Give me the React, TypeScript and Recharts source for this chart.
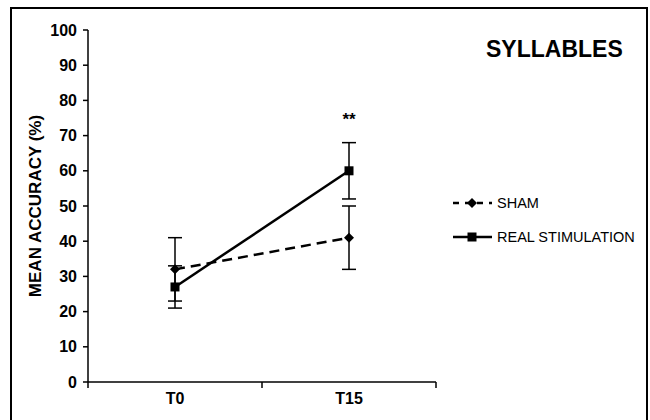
import { LineChart, Line, XAxis, YAxis, ErrorBar, ReferenceDot, Label } from "recharts"

const categories = ["T0", "T15"]
const shamMean = [32, 41]
const shamErr = [9, 9]
const realMean = [27, 60]
const realErr = [6, 8]
const yTicks = [0, 10, 20, 30, 40, 50, 60, 70, 80, 90, 100]
const sigMark = { category: "T15", value: 75, text: "**" }

const FONT = "'Liberation Sans', Arial, sans-serif"

const data = categories.map((c, i) => ({
  pos: i + 0.5,
  name: c,
  sham: shamMean[i],
  shamErr: shamErr[i],
  real: realMean[i],
  realErr: realErr[i],
}))

const xTicks = [0, 0.5, 1, 1.5, 2]

const Diamond = ({ cx, cy }: any) => (
  <path d={`M${cx},${cy - 5} L${cx + 5},${cy} L${cx},${cy + 5} L${cx - 5},${cy} Z`} fill="#000" />
)
const Square = ({ cx, cy }: any) => (
  <rect x={cx - 4.5} y={cy - 4.5} width={9} height={9} fill="#000" />
)

const XTick = ({ x, y, payload }: any) => {
  const v = payload.value
  if (Number.isInteger(v)) {
    return <line x1={x} x2={x} y1={y} y2={y + 6} stroke="#000" strokeWidth={1.5} />
  }
  const label = categories[Math.floor(v)]
  return (
    <text x={x} y={y + 22} textAnchor="middle" fontFamily={FONT} fontWeight="bold" fontSize={16} fill="#000">
      {label}
    </text>
  )
}

const YTick = ({ x, y, payload }: any) => (
  <text x={x} y={y} dy={5.5} textAnchor="end" fontFamily={FONT} fontWeight="bold" fontSize={16} fill="#000">
    {payload.value}
  </text>
)

const legendItems = [
  { name: "SHAM", dash: "6 6", marker: "diamond" },
  { name: "REAL STIMULATION", dash: undefined, marker: "square" },
]

const ChartLegend = () => (
  <svg width={200} height={60} style={{ position: "absolute", left: 451, top: 193 }}>
    {legendItems.map((it, i) => {
      const cy = 10 + i * 34
      return (
        <g key={it.name}>
          <line x1={2} x2={41} y1={cy} y2={cy} stroke="#000" strokeWidth={2.5} strokeDasharray={it.dash} />
          {it.marker === "diamond" ? <Diamond cx={21} cy={cy} /> : <Square cx={21} cy={cy} />}
          <text x={46} y={cy + 5} fontFamily={FONT} fontSize={14.5} fill="#000">
            {it.name}
          </text>
        </g>
      )
    })}
  </svg>
)

export default function App() {
  return (
    <div style={{ position: "absolute", left: 0, top: 0, width: 650, height: 420, background: "#fff", overflow: "hidden" }}>
      <div style={{ position: "absolute", left: 10, top: 7, width: 634, height: 430, border: "2px solid #000" }} />
      <div
        style={{
          position: "absolute",
          left: 486,
          top: 36,
          fontFamily: FONT,
          fontWeight: "bold",
          fontSize: 23,
          lineHeight: "26px",
          color: "#000",
        }}
      >
        SYLLABLES
      </div>
      <LineChart
        width={650}
        height={420}
        data={data}
        margin={{ top: 30, right: 214, bottom: 0, left: 0 }}
        style={{ position: "absolute", left: 0, top: 0 }}
      >
        <XAxis
          type="number"
          dataKey="pos"
          domain={[0, 2]}
          ticks={xTicks}
          interval={0}
          height={38}
          tickSize={0}
          tickMargin={0}
          tick={<XTick />}
          axisLine={{ stroke: "#000", strokeWidth: 1.5 }}
          tickLine={false}
        />
        <YAxis
          domain={[0, 100]}
          ticks={yTicks}
          interval={0}
          width={88}
          tickSize={5}
          tickMargin={6}
          tick={<YTick />}
          axisLine={{ stroke: "#000", strokeWidth: 1.5 }}
          tickLine={{ stroke: "#000", strokeWidth: 1.5 }}
        >
          <Label
            content={({ viewBox }: any) => (
              <text
                x={41}
                y={viewBox.y + viewBox.height / 2}
                transform={`rotate(-90 41 ${viewBox.y + viewBox.height / 2})`}
                textAnchor="middle"
                fontFamily={FONT}
                fontWeight="bold"
                fontSize={17}
                fill="#000"
              >
                MEAN ACCURACY (%)
              </text>
            )}
          />
        </YAxis>
        <Line
          dataKey="sham"
          stroke="#000"
          strokeWidth={2.5}
          strokeDasharray="10 6"
          dot={(p: any) => <Diamond key={`d${p.index}`} cx={p.cx} cy={p.cy} />}
          activeDot={false}
          isAnimationActive={false}
        >
          <ErrorBar dataKey="shamErr" width={7} stroke="#000" strokeWidth={1.5} isAnimationActive={false} />
        </Line>
        <Line
          dataKey="real"
          stroke="#000"
          strokeWidth={2.5}
          dot={(p: any) => <Square key={`s${p.index}`} cx={p.cx} cy={p.cy} />}
          activeDot={false}
          isAnimationActive={false}
        >
          <ErrorBar dataKey="realErr" width={7} stroke="#000" strokeWidth={1.5} isAnimationActive={false} />
        </Line>
        <ReferenceDot
          x={data[categories.indexOf(sigMark.category)].pos}
          y={sigMark.value}
          r={0}
          fill="none"
          stroke="none"
          label={({ viewBox }: any) => (
            <text
              x={viewBox.x + viewBox.width / 2}
              y={viewBox.y + viewBox.height / 2 + 7}
              textAnchor="middle"
              fontFamily={FONT}
              fontWeight="bold"
              fontSize={17}
              fill="#000"
            >
              {sigMark.text}
            </text>
          )}
        />
      </LineChart>
      <ChartLegend />
    </div>
  )
}
